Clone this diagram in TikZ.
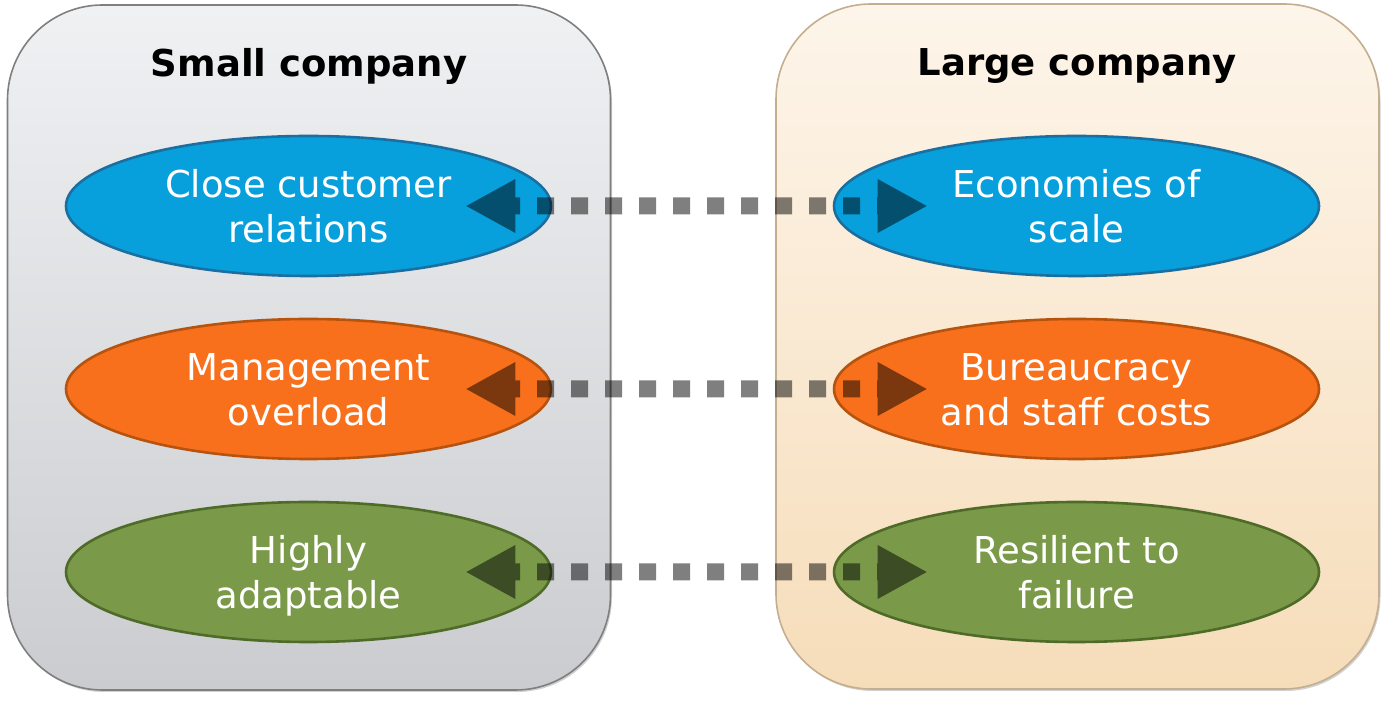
\documentclass[tikz,border=0pt]{standalone}
\usepackage{fontspec}
\setmainfont{DejaVu Sans}
\usetikzlibrary{shapes.geometric,arrows.meta,shadows}
\definecolor{blueF}{HTML}{08A0DC}
\definecolor{blueD}{HTML}{1B6FA0}
\definecolor{orangeF}{HTML}{F8701C}
\definecolor{orangeD}{HTML}{B5530F}
\definecolor{greenF}{HTML}{7A9A4A}
\definecolor{greenD}{HTML}{4F6B28}
\definecolor{grayTop}{HTML}{F0F1F3}
\definecolor{grayBot}{HTML}{CBCCCF}
\definecolor{grayEdge}{HTML}{7F7F7F}
\definecolor{tanTop}{HTML}{FDF5EA}
\definecolor{tanBot}{HTML}{F6DDBA}
\definecolor{tanEdge}{HTML}{C4AE90}
\begin{document}
\begin{tikzpicture}[x=1pt,y=1pt,
  panel/.style={rectangle, rounded corners=95pt, line width=1.6pt,
    minimum width=603pt, minimum height=685pt, inner sep=0pt,
    drop shadow={shadow xshift=1.5pt, shadow yshift=-2pt, opacity=0.18, fill=black}},
  title/.style={font=\fontsize{37}{45}\selectfont\bfseries, text=black, inner sep=0pt},
  oval/.style={ellipse, line width=2.6pt, minimum width=485pt, minimum height=140pt,
    inner sep=0pt, align=center, text=white, font=\fontsize{37}{45}\selectfont},
  conn/.style={line width=17pt, dash pattern=on 17pt off 17pt, dash phase=9pt,
    shorten <=-87pt, shorten >=-95pt,
    {Triangle[length=50pt,width=50pt]}-{Triangle[length=50pt,width=50pt]}},
]
\useasboundingbox (0,0) rectangle (1386,701);
\node[panel, draw=grayEdge, top color=grayTop, bottom color=grayBot] (small) at (309,353.5) {};
\node[panel, draw=tanEdge, top color=tanTop, bottom color=tanBot] (large) at (1077.5,354.5) {};
\node[title] (tsmall) at (309,635) {Small company};
\node[title] (tlarge) at (1077,635) {Large company};

\newcommand{\lh}{\rule{0pt}{35pt}}
\newcommand{\ld}{\vphantom{ly}}
\node[oval, fill=blueF, draw=blueD] (s1) at (308.5,495) {\lh Close customer\\\ld relations};
\node[oval, fill=orangeF, draw=orangeD] (s2) at (308.5,312) {\lh Management\\\ld overload};
\node[oval, fill=greenF, draw=greenD] (s3) at (308.5,129) {\lh Highly\\\ld adaptable};
\node[oval, fill=blueF, draw=blueD] (l1) at (1076.5,495) {\lh Economies of\\\ld scale};
\node[oval, fill=orangeF, draw=orangeD] (l2) at (1076.5,312) {\lh Bureaucracy\\\ld and staff costs};
\node[oval, fill=greenF, draw=greenD] (l3) at (1076.5,129) {\lh Resilient to\\\ld failure};

\foreach \a/\b in {s1/l1, s2/l2, s3/l3}{
  \begin{scope}[transparency group, opacity=0.5]
    \draw[conn] (\a) -- (\b);
  \end{scope}
}
\end{tikzpicture}
\end{document}
